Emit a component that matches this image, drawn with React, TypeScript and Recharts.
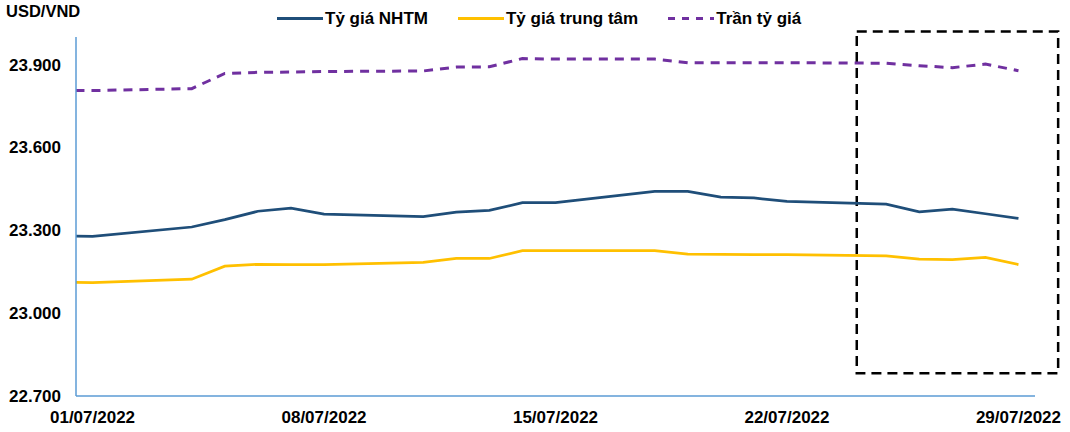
import { LineChart, Line, XAxis, YAxis, ReferenceArea } from "recharts";

// business days (30/06 is only there so the lines reach the axis, it gets clipped)
const dates = [
  "30/06/2022", "01/07/2022", "04/07/2022", "05/07/2022", "06/07/2022", "07/07/2022",
  "08/07/2022", "11/07/2022", "12/07/2022", "13/07/2022", "14/07/2022", "15/07/2022",
  "18/07/2022", "19/07/2022", "20/07/2022", "21/07/2022", "22/07/2022", "25/07/2022",
  "26/07/2022", "27/07/2022", "28/07/2022", "29/07/2022",
];

const nhtm = [
  23280, 23278, 23312, 23339, 23369, 23380, 23359, 23350, 23366, 23372, 23400, 23400,
  23441, 23441, 23420, 23417, 23405, 23395, 23367, 23377, 23360, 23343,
];

const trungTam = [
  23112, 23111, 23123, 23170, 23177, 23176, 23176, 23184, 23198, 23198, 23226, 23226,
  23226, 23214, 23213, 23212, 23212, 23207, 23196, 23194, 23202, 23176,
];

const tranTyGia = [
  23806, 23806, 23813, 23868, 23872, 23873, 23875, 23877, 23891, 23892, 23922, 23920,
  23920, 23907, 23907, 23907, 23907, 23905, 23896, 23889, 23902, 23878,
];

const xTickLabels = ["01/07/2022", "08/07/2022", "15/07/2022", "22/07/2022", "29/07/2022"];
const yTicks = [22700, 23000, 23300, 23600, 23900];

// highlighted box (last week), in axis units
const boxX = [24.11, 30.2];
const boxY = [22782, 24020];

// day number counted from 01/07 = 1
const toDay = (d: string) => {
  const [dd, mm] = d.split("/").map(Number);
  return mm === 6 ? dd - 30 : dd;
};

const rows = dates.map((d, i) => ({
  day: toDay(d),
  nhtm: nhtm[i],
  trungTam: trungTam[i],
  tran: tranTyGia[i],
}));

const xTicks = xTickLabels.map(toDay);
const labelByDay: Record<number, string> = {};
xTickLabels.forEach((l) => (labelByDay[toDay(l)] = l));

const fmtY = (v: number) => String(v).replace(/\B(?=(\d{3})+(?!\d))/g, ".");

const series = [
  { key: "nhtm", name: "Tỷ giá NHTM", color: "#1f4e79", dash: undefined as string | undefined },
  { key: "trungTam", name: "Tỷ giá trung tâm", color: "#ffc000", dash: undefined },
  { key: "tran", name: "Trần tỷ giá", color: "#7030a0", dash: "9 7" },
];

const FONT = "'Liberation Sans', Arial, sans-serif";

function Legend() {
  return (
    <div
      style={{
        position: "absolute",
        left: 277,
        top: 8,
        display: "flex",
        gap: 30,
        fontSize: 17,
        fontWeight: 700,
        lineHeight: "22px",
      }}
    >
      {series.map((s) => (
        <div key={s.key} style={{ display: "flex", alignItems: "center" }}>
          <svg width={46} height={22} style={{ display: "block" }}>
            <line
              x1={0}
              y1={10.5}
              x2={46}
              y2={10.5}
              stroke={s.color}
              strokeWidth={3}
              strokeDasharray={s.dash ? "7 7" : undefined}
            />
          </svg>
          <span style={{ marginLeft: 2 }}>{s.name}</span>
        </div>
      ))}
    </div>
  );
}

export default function App() {
  return (
    <div
      style={{
        position: "absolute",
        left: 0,
        top: 0,
        width: 1070,
        height: 432,
        background: "#fff",
        fontFamily: FONT,
        color: "#000",
      }}
    >
      <div
        style={{
          position: "absolute",
          left: 6,
          top: 0,
          fontSize: 16.5,
          fontWeight: 700,
          lineHeight: "22px",
        }}
      >
        USD/VND
      </div>
      <Legend />
      <LineChart
        width={1070}
        height={432}
        data={rows}
        margin={{ top: 37, right: 35, bottom: 6, left: 0 }}
      >
        <XAxis
          type="number"
          dataKey="day"
          domain={[0.5, 29.5]}
          allowDataOverflow
          ticks={xTicks}
          interval={0}
          tickFormatter={(v: number) => labelByDay[v] ?? ""}
          tickLine={false}
          tickMargin={9}
          height={30}
          axisLine={{ stroke: "#5b9bd5", strokeWidth: 1.5 }}
          tick={{ fill: "#000", fontSize: 17, fontWeight: 700 }}
        />
        <YAxis
          domain={[22700, 24000]}
          ticks={yTicks}
          interval={0}
          tickFormatter={fmtY}
          tickLine={false}
          tickMargin={9}
          width={76}
          axisLine={{ stroke: "#5b9bd5", strokeWidth: 1.5 }}
          tick={{ fill: "#000", fontSize: 17, fontWeight: 700 }}
        />
        {series.map((s) => (
          <Line
            key={s.key}
            type="linear"
            dataKey={s.key}
            stroke={s.color}
            strokeWidth={s.dash ? 3 : 2.75}
            strokeDasharray={s.dash}
            dot={false}
            activeDot={false}
            isAnimationActive={false}
          />
        ))}
        <ReferenceArea
          x1={boxX[0]}
          x2={boxX[1]}
          y1={boxY[0]}
          y2={boxY[1]}
          ifOverflow="visible"
          fill="none"
          stroke="#000"
          strokeWidth={2.5}
          strokeDasharray="10 6"
        />
      </LineChart>
    </div>
  );
}
